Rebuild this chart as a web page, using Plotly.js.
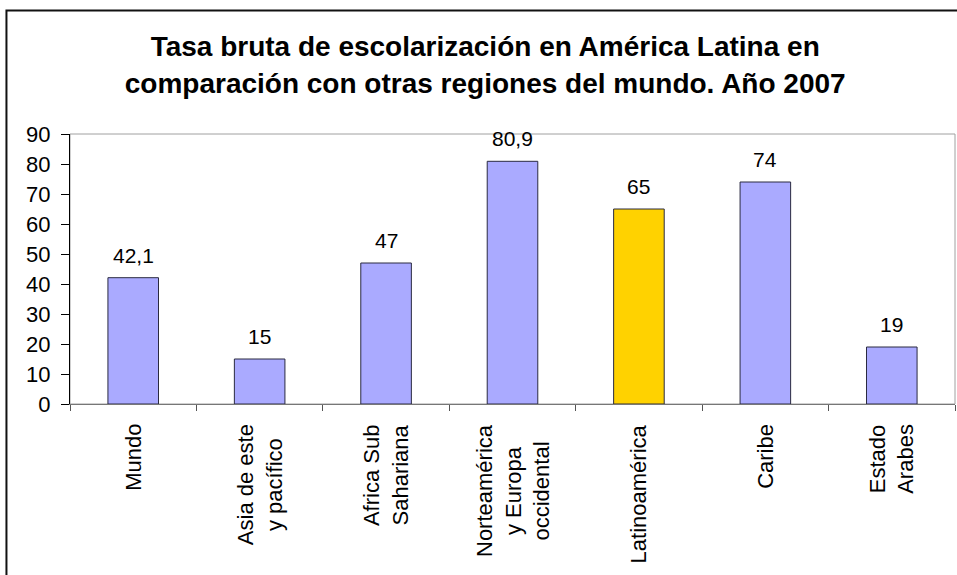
<!DOCTYPE html>
<html>
<head>
<meta charset="utf-8">
<script src="https://cdn.plot.ly/plotly-3.0.1.min.js"></script>
<style>html,body{margin:0;padding:0;background:#fff;}#chart{width:957px;height:575px;}</style>
</head>
<body>
<div id="chart"></div>
<script>
var categories = ["Mundo", "Asia de este<br>y pacífico", "Africa Sub<br>Sahariana", "Norteamérica<br>y Europa<br>occidental", "Latinoamérica", "Caribe", "Estado<br>Arabes"];
var values = [42.1, 15, 47, 80.9, 65, 74, 19];
var valueLabels = ["42,1", "15", "47", "80,9", "65", "74", "19"];
var barColors = ["#AAAAFF", "#AAAAFF", "#AAAAFF", "#AAAAFF", "#FFD200", "#AAAAFF", "#AAAAFF"];
var yTicks = [0, 10, 20, 30, 40, 50, 60, 70, 80, 90];

var trace = {
  type: "bar",
  x: categories,
  y: values,
  width: 0.4,
  marker: {color: barColors, line: {color: "#2a2a40", width: 1}},
  hoverinfo: "none"
};

var annotations = [];
categories.forEach(function (c, i) {
  annotations.push({
    x: c, y: values[i], xref: "x", yref: "y",
    text: valueLabels[i], showarrow: false,
    yanchor: "bottom", yshift: 9,
    font: {family: "Liberation Sans, Arial, sans-serif", size: 21, color: "#000"}
  });
  annotations.push({
    x: c, y: -0.0667, xref: "x", yref: "paper",
    text: c, showarrow: false, textangle: -90,
    xanchor: "center", yanchor: "top", align: "center",
    font: {family: "Liberation Sans, Arial, sans-serif", size: 22, color: "#000"}
  });
});

var layout = {
  width: 957, height: 575,
  margin: {l: 70, r: 2, t: 134, b: 171},
  paper_bgcolor: "#fff", plot_bgcolor: "#fff",
  showlegend: false,
  title: {
    text: "<b>Tasa bruta de escolarización en América Latina en<br>comparación con otras regiones del mundo. Año 2007</b>",
    x: 0.507, xanchor: "center", y: 0.902, yanchor: "middle",
    font: {family: "Liberation Sans, Arial, sans-serif", size: 28, color: "#000"}
  },
  xaxis: {
    type: "category",
    showticklabels: false,
    ticks: "outside", ticklen: 6, tickcolor: "#555", tickson: "boundaries",
    showline: true, linecolor: "#777", linewidth: 1,
    showgrid: false, zeroline: false, fixedrange: true
  },
  yaxis: {
    range: [0, 90], tickvals: yTicks,
    ticks: "outside", ticklen: 8, tickcolor: "#000",
    ticklabelstandoff: 6,
    showline: true, linecolor: "#000", linewidth: 1,
    showgrid: false, zeroline: false, fixedrange: true,
    tickfont: {family: "Liberation Sans, Arial, sans-serif", size: 22, color: "#000"}
  },
  annotations: annotations,
  shapes: [
    {type: "rect", xref: "paper", yref: "paper", x0: 0, x1: 1, y0: 0, y1: 1,
     line: {color: "#a0a0a0", width: 1}, layer: "below"},
    {type: "rect", xref: "paper", yref: "paper", x0: -0.0718, x1: 1.02, y0: -0.7, y1: 1.4574,
     line: {color: "#111", width: 2}, layer: "above"}
  ]
};

Plotly.newPlot("chart", [trace], layout, {displayModeBar: false, staticPlot: true});
</script>
</body>
</html>
